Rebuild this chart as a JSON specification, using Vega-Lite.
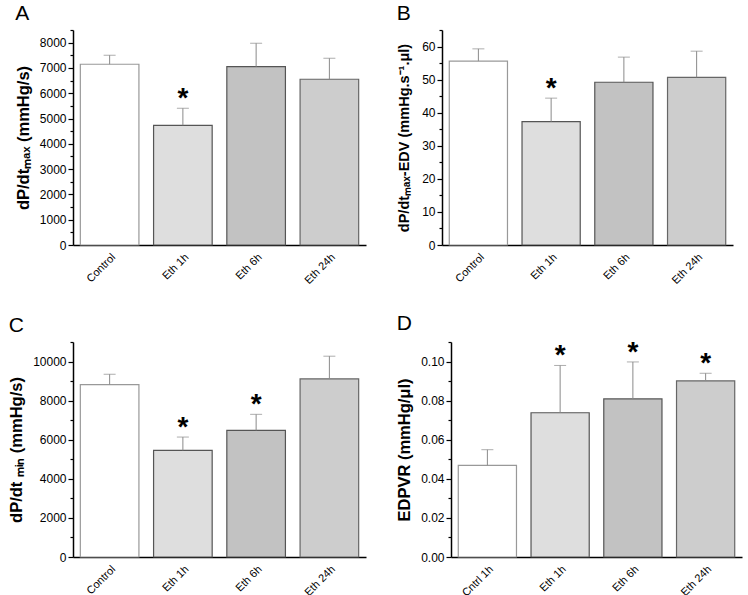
{
  "$schema": "https://vega.github.io/schema/vega-lite/v6.json",
  "background": "white",
  "padding": {"left": 8, "top": 3, "right": 4, "bottom": 0},
  "config": {
    "font": "Liberation Sans",
    "view": {"stroke": null},
    "axis": {"domainColor": "black", "tickColor": "black", "labelColor": "black", "titleColor": "black", "domainWidth": 1.5, "tickWidth": 1.2, "grid": false, "labelOverlap": false},
    "title": {"anchor": "start", "frame": "bounds", "fontSize": 21, "fontWeight": "normal", "color": "black", "offset": 5}
  },
  "data": {"values": [
    {"panel": "A", "group": "Control", "value": 7146, "err": 7502, "star": false},
    {"panel": "A", "group": "Eth 1h", "value": 4733, "err": 5406, "star": true},
    {"panel": "A", "group": "Eth 6h", "value": 7051, "err": 7976, "star": false},
    {"panel": "A", "group": "Eth 24h", "value": 6553, "err": 7383, "star": false},
    {"panel": "B", "group": "Control", "value": 55.6, "err": 59.3, "star": false},
    {"panel": "B", "group": "Eth 1h", "value": 37.3, "err": 44.4, "star": true},
    {"panel": "B", "group": "Eth 6h", "value": 49.2, "err": 56.8, "star": false},
    {"panel": "B", "group": "Eth 24h", "value": 50.7, "err": 58.6, "star": false},
    {"panel": "C", "group": "Control", "value": 8821, "err": 9350, "star": false},
    {"panel": "C", "group": "Eth 1h", "value": 5456, "err": 6137, "star": true},
    {"panel": "C", "group": "Eth 6h", "value": 6479, "err": 7299, "star": true},
    {"panel": "C", "group": "Eth 24h", "value": 9111, "err": 10274, "star": false},
    {"panel": "D", "group": "Cntrl 1h", "value": 0.0469, "err": 0.0549, "star": false},
    {"panel": "D", "group": "Eth 1h", "value": 0.0738, "err": 0.098, "star": true},
    {"panel": "D", "group": "Eth 6h", "value": 0.0809, "err": 0.0998, "star": true},
    {"panel": "D", "group": "Eth 24h", "value": 0.0901, "err": 0.094, "star": true}
  ]},
  "spacing": 26,
  "vconcat": [
    {"spacing": 30, "hconcat": [
      {
        "width": 293, "height": 215,
        "title": {"text": "A"},
        "transform": [{"filter": "datum.panel === 'A'"}],
        "encoding": {
          "x": {"field": "group", "type": "nominal", "sort": null, "title": null, "scale": {"paddingInner": 0.2, "paddingOuter": 0.1}, "axis": {"labelAngle": -45, "labelFontSize": 11, "ticks": false, "labelPadding": 6}},
          "y": {"field": "value", "type": "quantitative", "scale": {"domain": [0, 8500], "nice": false}, "title": "dP/dtₘₐₓ (mmHg/s)",
            "axis": {"values": [0,500,1000,1500,2000,2500,3000,3500,4000,4500,5000,5500,6000,6500,7000,7500,8000,8500], "labelExpr": "datum.value % 1000 === 0 ? datum.label : ''", "format": "d", "labelFontSize": {"condition": {"test": "datum.value % 1000 === 0", "value": 12}, "value": 0}, "titleFontSize": 16.5, "titleFontWeight": "bold", "titlePadding": 8,
              "tickSize": {"condition": {"test": "datum.value % 1000 === 0", "value": 5}, "value": 3}}}
        },
        "layer": [
          {"mark": {"type": "bar", "strokeWidth": 1.2}, "encoding": {
            "fill": {"field": "group", "type": "nominal", "legend": null, "scale": {"domain": ["Control", "Cntrl 1h", "Eth 1h", "Eth 6h", "Eth 24h"], "range": ["#ffffff", "#ffffff", "#dedede", "#c2c2c2", "#cdcdcd"]}},
            "stroke": {"field": "group", "type": "nominal", "legend": null, "scale": {"domain": ["Control", "Cntrl 1h", "Eth 1h", "Eth 6h", "Eth 24h"], "range": ["#999999", "#999999", "#555555", "#555555", "#666666"]}}
          }},
          {"mark": {"type": "rule", "color": "#8a8a8a", "strokeWidth": 1}, "encoding": {"y2": {"field": "err"}}},
          {"mark": {"type": "tick", "color": "#8a8a8a", "size": 12, "thickness": 1}, "encoding": {"y": {"field": "err", "type": "quantitative", "title": "dP/dtₘₐₓ (mmHg/s)",
            "axis": {"values": [0,500,1000,1500,2000,2500,3000,3500,4000,4500,5000,5500,6000,6500,7000,7500,8000,8500], "labelExpr": "datum.value % 1000 === 0 ? datum.label : ''", "format": "d", "labelFontSize": {"condition": {"test": "datum.value % 1000 === 0", "value": 12}, "value": 0}, "titleFontSize": 16.5, "titleFontWeight": "bold", "titlePadding": 8,
              "tickSize": {"condition": {"test": "datum.value % 1000 === 0", "value": 5}, "value": 3}}}}},
          {"transform": [{"filter": "datum.star"}], "mark": {"type": "text", "text": "*", "fontSize": 28, "fontWeight": "bold", "baseline": "alphabetic", "dy": -1, "color": "black"}, "encoding": {"y": {"field": "err", "type": "quantitative", "title": "dP/dtₘₐₓ (mmHg/s)",
            "axis": {"values": [0,500,1000,1500,2000,2500,3000,3500,4000,4500,5000,5500,6000,6500,7000,7500,8000,8500], "labelExpr": "datum.value % 1000 === 0 ? datum.label : ''", "format": "d", "labelFontSize": {"condition": {"test": "datum.value % 1000 === 0", "value": 12}, "value": 0}, "titleFontSize": 16.5, "titleFontWeight": "bold", "titlePadding": 8,
              "tickSize": {"condition": {"test": "datum.value % 1000 === 0", "value": 5}, "value": 3}}}}}
        ]
      },
      {
        "width": 291, "height": 215,
        "title": {"text": "B"},
        "transform": [{"filter": "datum.panel === 'B'"}],
        "encoding": {
          "x": {"field": "group", "type": "nominal", "sort": null, "title": null, "scale": {"paddingInner": 0.2, "paddingOuter": 0.1}, "axis": {"labelAngle": -45, "labelFontSize": 11, "ticks": false, "labelPadding": 6}},
          "y": {"field": "value", "type": "quantitative", "scale": {"domain": [0, 65], "nice": false}, "title": "dP/dtₘₐₓ-EDV (mmHg.s⁻¹.μl)",
            "axis": {"values": [0,5,10,15,20,25,30,35,40,45,50,55,60,65], "labelExpr": "datum.value % 10 === 0 ? datum.label : ''", "labelFontSize": {"condition": {"test": "datum.value % 10 === 0", "value": 12}, "value": 0}, "titleFontSize": 14.5, "titleFontWeight": "bold", "titlePadding": 10,
              "tickSize": {"condition": {"test": "datum.value % 10 === 0", "value": 5}, "value": 3}}}
        },
        "layer": [
          {"mark": {"type": "bar", "strokeWidth": 1.2}, "encoding": {
            "fill": {"field": "group", "type": "nominal", "legend": null, "scale": {"domain": ["Control", "Cntrl 1h", "Eth 1h", "Eth 6h", "Eth 24h"], "range": ["#ffffff", "#ffffff", "#dedede", "#c2c2c2", "#cdcdcd"]}},
            "stroke": {"field": "group", "type": "nominal", "legend": null, "scale": {"domain": ["Control", "Cntrl 1h", "Eth 1h", "Eth 6h", "Eth 24h"], "range": ["#999999", "#999999", "#555555", "#555555", "#666666"]}}
          }},
          {"mark": {"type": "rule", "color": "#8a8a8a", "strokeWidth": 1}, "encoding": {"y2": {"field": "err"}}},
          {"mark": {"type": "tick", "color": "#8a8a8a", "size": 12, "thickness": 1}, "encoding": {"y": {"field": "err", "type": "quantitative", "title": "dP/dtₘₐₓ-EDV (mmHg.s⁻¹.μl)",
            "axis": {"values": [0,5,10,15,20,25,30,35,40,45,50,55,60,65], "labelExpr": "datum.value % 10 === 0 ? datum.label : ''", "labelFontSize": {"condition": {"test": "datum.value % 10 === 0", "value": 12}, "value": 0}, "titleFontSize": 14.5, "titleFontWeight": "bold", "titlePadding": 10,
              "tickSize": {"condition": {"test": "datum.value % 10 === 0", "value": 5}, "value": 3}}}}},
          {"transform": [{"filter": "datum.star"}], "mark": {"type": "text", "text": "*", "fontSize": 28, "fontWeight": "bold", "baseline": "alphabetic", "dy": -1, "color": "black"}, "encoding": {"y": {"field": "err", "type": "quantitative", "title": "dP/dtₘₐₓ-EDV (mmHg.s⁻¹.μl)",
            "axis": {"values": [0,5,10,15,20,25,30,35,40,45,50,55,60,65], "labelExpr": "datum.value % 10 === 0 ? datum.label : ''", "labelFontSize": {"condition": {"test": "datum.value % 10 === 0", "value": 12}, "value": 0}, "titleFontSize": 14.5, "titleFontWeight": "bold", "titlePadding": 10,
              "tickSize": {"condition": {"test": "datum.value % 10 === 0", "value": 5}, "value": 3}}}}}
        ]
      }
    ]},
    {"spacing": 30, "hconcat": [
      {
        "width": 293, "height": 215,
        "title": {"text": "C"},
        "transform": [{"filter": "datum.panel === 'C'"}],
        "encoding": {
          "x": {"field": "group", "type": "nominal", "sort": null, "title": null, "scale": {"paddingInner": 0.2, "paddingOuter": 0.1}, "axis": {"labelAngle": -45, "labelFontSize": 11, "ticks": false, "labelPadding": 6}},
          "y": {"field": "value", "type": "quantitative", "scale": {"domain": [0, 11000], "nice": false}, "title": "dP/dt ₘᵢₙ (mmHg/s)",
            "axis": {"values": [0,1000,2000,3000,4000,5000,6000,7000,8000,9000,10000,11000], "labelExpr": "datum.value % 2000 === 0 ? datum.label : ''", "format": "d", "labelFontSize": {"condition": {"test": "datum.value % 2000 === 0", "value": 12}, "value": 0}, "titleFontSize": 16.5, "titleFontWeight": "bold", "titlePadding": 8,
              "tickSize": {"condition": {"test": "datum.value % 2000 === 0", "value": 5}, "value": 3}}}
        },
        "layer": [
          {"mark": {"type": "bar", "strokeWidth": 1.2}, "encoding": {
            "fill": {"field": "group", "type": "nominal", "legend": null, "scale": {"domain": ["Control", "Cntrl 1h", "Eth 1h", "Eth 6h", "Eth 24h"], "range": ["#ffffff", "#ffffff", "#dedede", "#c2c2c2", "#cdcdcd"]}},
            "stroke": {"field": "group", "type": "nominal", "legend": null, "scale": {"domain": ["Control", "Cntrl 1h", "Eth 1h", "Eth 6h", "Eth 24h"], "range": ["#999999", "#999999", "#555555", "#555555", "#666666"]}}
          }},
          {"mark": {"type": "rule", "color": "#8a8a8a", "strokeWidth": 1}, "encoding": {"y2": {"field": "err"}}},
          {"mark": {"type": "tick", "color": "#8a8a8a", "size": 12, "thickness": 1}, "encoding": {"y": {"field": "err", "type": "quantitative", "title": "dP/dt ₘᵢₙ (mmHg/s)",
            "axis": {"values": [0,1000,2000,3000,4000,5000,6000,7000,8000,9000,10000,11000], "labelExpr": "datum.value % 2000 === 0 ? datum.label : ''", "format": "d", "labelFontSize": {"condition": {"test": "datum.value % 2000 === 0", "value": 12}, "value": 0}, "titleFontSize": 16.5, "titleFontWeight": "bold", "titlePadding": 8,
              "tickSize": {"condition": {"test": "datum.value % 2000 === 0", "value": 5}, "value": 3}}}}},
          {"transform": [{"filter": "datum.star"}], "mark": {"type": "text", "text": "*", "fontSize": 28, "fontWeight": "bold", "baseline": "alphabetic", "dy": -1, "color": "black"}, "encoding": {"y": {"field": "err", "type": "quantitative", "title": "dP/dt ₘᵢₙ (mmHg/s)",
            "axis": {"values": [0,1000,2000,3000,4000,5000,6000,7000,8000,9000,10000,11000], "labelExpr": "datum.value % 2000 === 0 ? datum.label : ''", "format": "d", "labelFontSize": {"condition": {"test": "datum.value % 2000 === 0", "value": 12}, "value": 0}, "titleFontSize": 16.5, "titleFontWeight": "bold", "titlePadding": 8,
              "tickSize": {"condition": {"test": "datum.value % 2000 === 0", "value": 5}, "value": 3}}}}}
        ]
      },
      {
        "width": 291, "height": 215,
        "title": {"text": "D"},
        "transform": [{"filter": "datum.panel === 'D'"}],
        "encoding": {
          "x": {"field": "group", "type": "nominal", "sort": null, "title": null, "scale": {"paddingInner": 0.2, "paddingOuter": 0.1}, "axis": {"labelAngle": -45, "labelFontSize": 11, "ticks": false, "labelPadding": 6}},
          "y": {"field": "value", "type": "quantitative", "scale": {"domain": [0, 0.11], "nice": false}, "title": "EDPVR (mmHg/μl)",
            "axis": {"values": [0,0.01,0.02,0.03,0.04,0.05,0.06,0.07,0.08,0.09,0.1,0.11], "labelExpr": "round(datum.value * 100) % 2 === 0 ? datum.label : ''", "format": ".2f", "labelFontSize": {"condition": {"test": "round(datum.value * 100) % 2 === 0", "value": 12}, "value": 0}, "titleFontSize": 16.5, "titleFontWeight": "bold", "titlePadding": 8,
              "tickSize": {"condition": {"test": "round(datum.value * 100) % 2 === 0", "value": 5}, "value": 3}}}
        },
        "layer": [
          {"mark": {"type": "bar", "strokeWidth": 1.2}, "encoding": {
            "fill": {"field": "group", "type": "nominal", "legend": null, "scale": {"domain": ["Control", "Cntrl 1h", "Eth 1h", "Eth 6h", "Eth 24h"], "range": ["#ffffff", "#ffffff", "#dedede", "#c2c2c2", "#cdcdcd"]}},
            "stroke": {"field": "group", "type": "nominal", "legend": null, "scale": {"domain": ["Control", "Cntrl 1h", "Eth 1h", "Eth 6h", "Eth 24h"], "range": ["#999999", "#999999", "#555555", "#555555", "#666666"]}}
          }},
          {"mark": {"type": "rule", "color": "#8a8a8a", "strokeWidth": 1}, "encoding": {"y2": {"field": "err"}}},
          {"mark": {"type": "tick", "color": "#8a8a8a", "size": 12, "thickness": 1}, "encoding": {"y": {"field": "err", "type": "quantitative", "title": "EDPVR (mmHg/μl)",
            "axis": {"values": [0,0.01,0.02,0.03,0.04,0.05,0.06,0.07,0.08,0.09,0.1,0.11], "labelExpr": "round(datum.value * 100) % 2 === 0 ? datum.label : ''", "format": ".2f", "labelFontSize": {"condition": {"test": "round(datum.value * 100) % 2 === 0", "value": 12}, "value": 0}, "titleFontSize": 16.5, "titleFontWeight": "bold", "titlePadding": 8,
              "tickSize": {"condition": {"test": "round(datum.value * 100) % 2 === 0", "value": 5}, "value": 3}}}}},
          {"transform": [{"filter": "datum.star"}], "mark": {"type": "text", "text": "*", "fontSize": 28, "fontWeight": "bold", "baseline": "alphabetic", "dy": -1, "color": "black"}, "encoding": {"y": {"field": "err", "type": "quantitative", "title": "EDPVR (mmHg/μl)",
            "axis": {"values": [0,0.01,0.02,0.03,0.04,0.05,0.06,0.07,0.08,0.09,0.1,0.11], "labelExpr": "round(datum.value * 100) % 2 === 0 ? datum.label : ''", "format": ".2f", "labelFontSize": {"condition": {"test": "round(datum.value * 100) % 2 === 0", "value": 12}, "value": 0}, "titleFontSize": 16.5, "titleFontWeight": "bold", "titlePadding": 8,
              "tickSize": {"condition": {"test": "round(datum.value * 100) % 2 === 0", "value": 5}, "value": 3}}}}}
        ]
      }
    ]}
  ]
}
